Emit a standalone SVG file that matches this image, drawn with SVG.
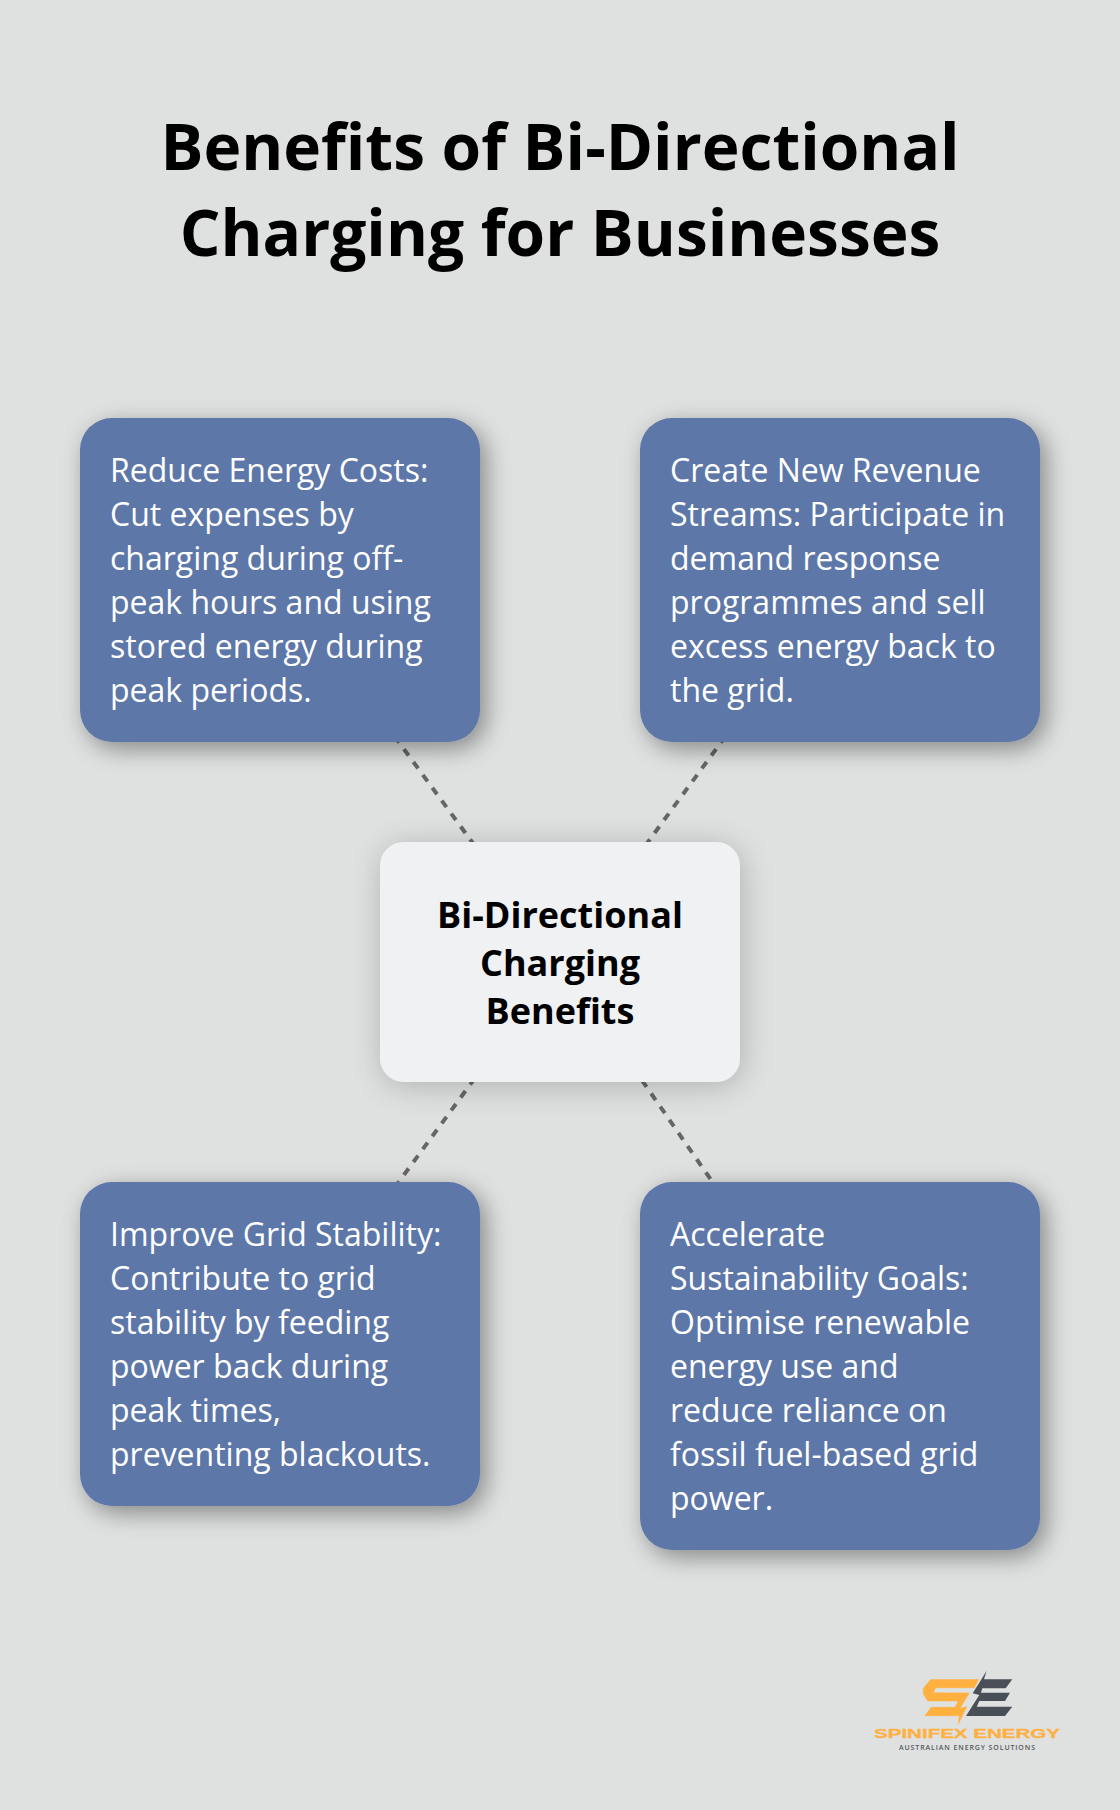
<svg xmlns="http://www.w3.org/2000/svg" width="1120" height="1810" viewBox="0 0 1120 1810">
<defs>
<filter id="sh" x="-20%" y="-20%" width="145%" height="145%"><feGaussianBlur in="SourceAlpha" stdDeviation="12"/><feOffset dx="6" dy="7"/><feComponentTransfer><feFuncA type="linear" slope="0.4"/></feComponentTransfer><feMerge><feMergeNode/><feMergeNode in="SourceGraphic"/></feMerge></filter>
<filter id="shc" x="-25%" y="-30%" width="150%" height="165%"><feGaussianBlur in="SourceAlpha" stdDeviation="16"/><feOffset dx="2" dy="4"/><feComponentTransfer><feFuncA type="linear" slope="0.22"/></feComponentTransfer><feMerge><feMergeNode/><feMergeNode in="SourceGraphic"/></feMerge></filter>
</defs>
<style>
text{font-family:"Open Sans","Noto Sans",sans-serif}
.t{font-size:64px;font-weight:700;fill:#000;text-anchor:middle}
.n{font-size:32px;fill:#fff}
.c{font-size:36px;font-weight:700;fill:#000;text-anchor:middle}
.b{fill:#5d77a8;filter:url(#sh)}
.e{stroke:#666;stroke-width:4;stroke-dasharray:8 8;fill:none}
</style>
<rect width="1120" height="1810" fill="#dfe1e0"/>
<g id="title"><text class="t" x="560" y="170">Benefits of Bi-Directional</text><text class="t" x="560" y="256">Charging for Businesses</text></g>
<g id="connectors">
<line class="e" x1="560" y1="962" x2="280" y2="580"/>
<line class="e" x1="560" y1="962" x2="840" y2="580"/>
<line class="e" x1="560" y1="962" x2="280" y2="1344"/>
<line class="e" x1="560" y1="962" x2="840" y2="1366"/>
</g>
<g id="node-center"><rect x="380" y="842" width="360" height="240" rx="24" fill="#eff1f3" filter="url(#shc)"/>
<text class="c" x="560" y="928">Bi-Directional</text><text class="c" x="560" y="976">Charging</text><text class="c" x="560" y="1024">Benefits</text></g>
<g id="node-costs"><rect class="b" x="80" y="418" width="400" height="324" rx="32"/>
<text class="n" x="110" y="482.4">Reduce Energy Costs:</text><text class="n" x="110" y="526.4">Cut expenses by</text><text class="n" x="110" y="570.4">charging during off-</text><text class="n" x="110" y="614.4">peak hours and using</text><text class="n" x="110" y="658.4">stored energy during</text><text class="n" x="110" y="702.4">peak periods.</text></g>
<g id="node-revenue"><rect class="b" x="640" y="418" width="400" height="324" rx="32"/>
<text class="n" x="670" y="482.4">Create New Revenue</text><text class="n" x="670" y="526.4">Streams: Participate in</text><text class="n" x="670" y="570.4">demand response</text><text class="n" x="670" y="614.4">programmes and sell</text><text class="n" x="670" y="658.4">excess energy back to</text><text class="n" x="670" y="702.4">the grid.</text></g>
<g id="node-grid"><rect class="b" x="80" y="1182" width="400" height="324" rx="32"/>
<text class="n" x="110" y="1246.4">Improve Grid Stability:</text><text class="n" x="110" y="1290.4">Contribute to grid</text><text class="n" x="110" y="1334.4">stability by feeding</text><text class="n" x="110" y="1378.4">power back during</text><text class="n" x="110" y="1422.4">peak times,</text><text class="n" x="110" y="1466.4">preventing blackouts.</text></g>
<g id="node-sustain"><rect class="b" x="640" y="1182" width="400" height="368" rx="32"/>
<text class="n" x="670" y="1246.4">Accelerate</text><text class="n" x="670" y="1290.4">Sustainability Goals:</text><text class="n" x="670" y="1334.4">Optimise renewable</text><text class="n" x="670" y="1378.4">energy use and</text><text class="n" x="670" y="1422.4">reduce reliance on</text><text class="n" x="670" y="1466.4">fossil fuel-based grid</text><text class="n" x="670" y="1510.4">power.</text></g>
<g id="logo">
<polygon fill="#ffb03f" stroke="#ffb03f" stroke-width="0.5" stroke-linejoin="round" points="930.7,1679.6 978.5,1679.6 974.3,1687.7 935.7,1687.7 933.3,1692.7 969.3,1693 960,1708.3 966.7,1706.7 958.3,1724.3 959.3,1715.7 925,1715.7 931,1707.3 955,1707.3 958.3,1701 927.7,1701 923.3,1694 923.3,1688.3"/>
<polygon fill="#4a4f57" points="986.7,1670.7 984,1679.3 1012.3,1679.3 1005.7,1688.3 982.3,1688.3 981,1692.7 1010,1692.7 1005,1701 979.3,1701 976.7,1706.7 1012.3,1706.7 1005,1716 966,1716 979.3,1695 972.7,1693.3 979.3,1682.7"/>
<text x="874" y="1738" textLength="186" lengthAdjust="spacingAndGlyphs" style="font-family:'Liberation Sans',sans-serif;font-weight:700;font-size:13px" fill="#ffb03f" stroke="#ffb03f" stroke-width="0.3">SPINIFEX ENERGY</text>
<text x="899" y="1750" textLength="136" style="font-family:'Open Sans',sans-serif;font-weight:600;font-size:7px" fill="#55595f">AUSTRALIAN ENERGY SOLUTIONS</text>
</g>
</svg>
